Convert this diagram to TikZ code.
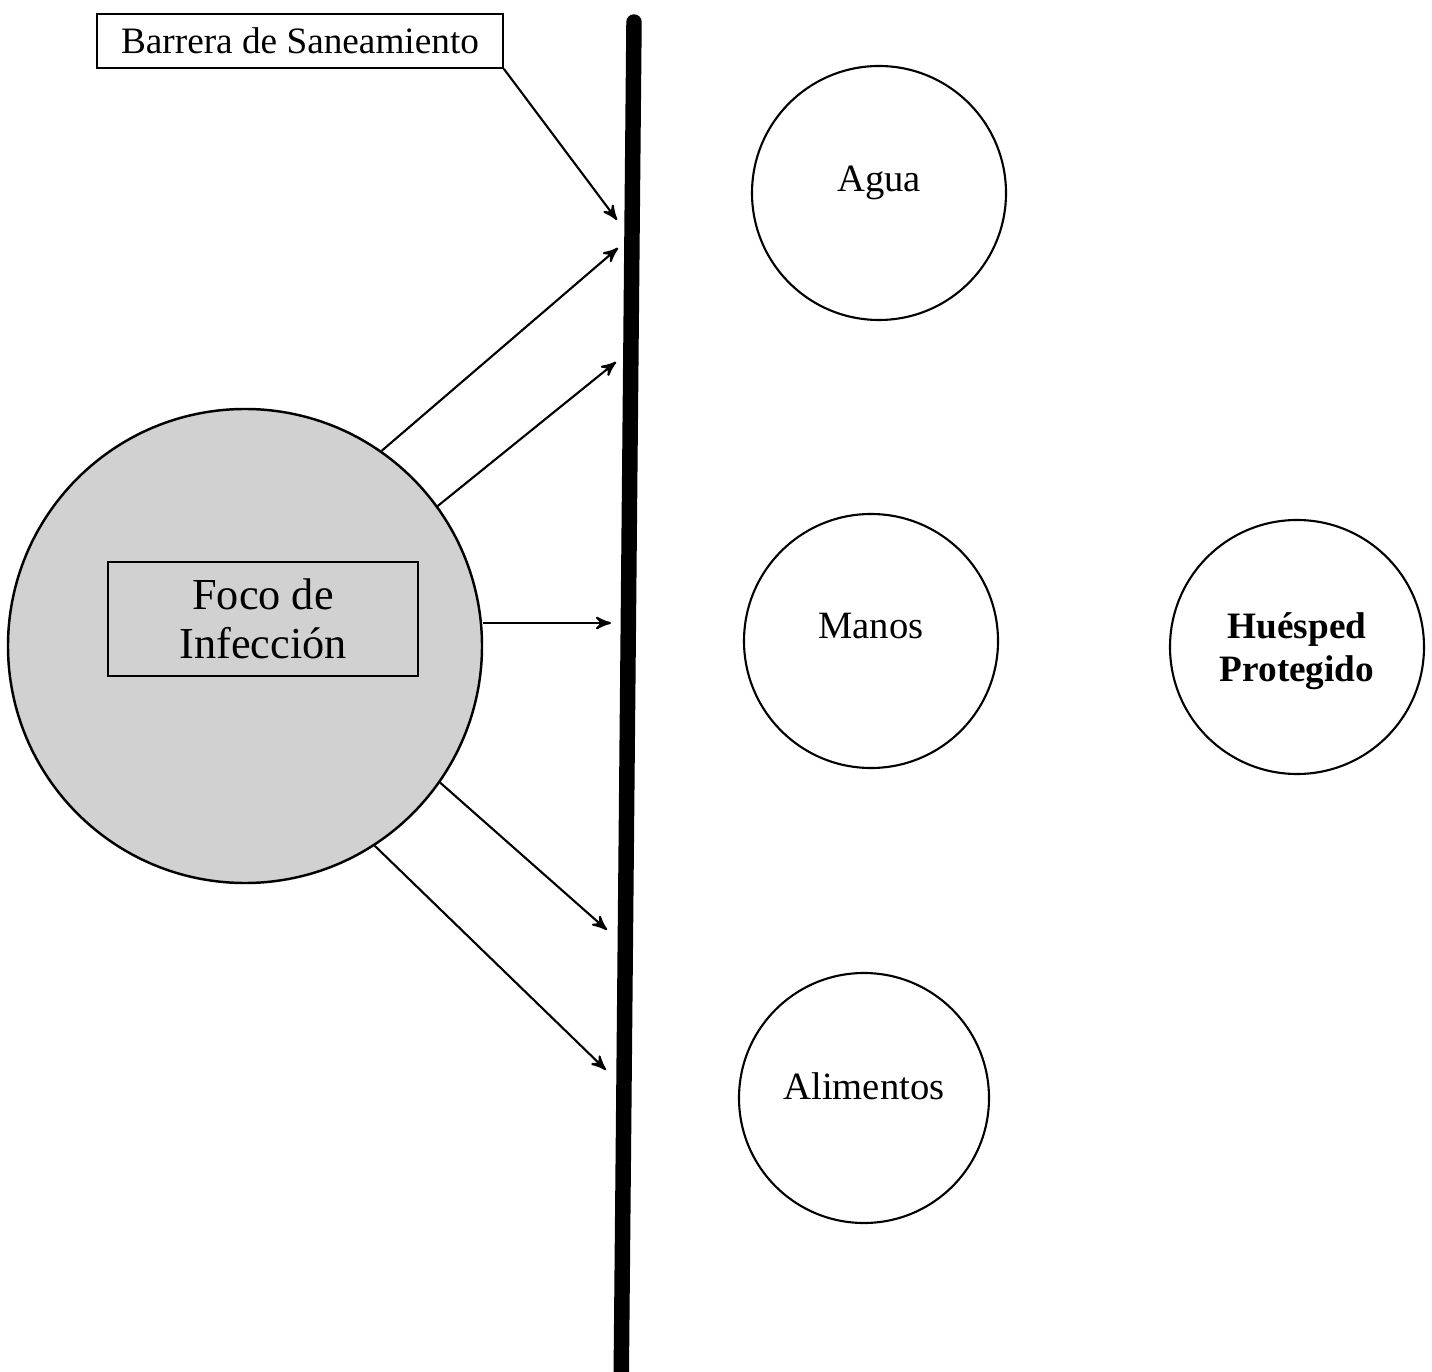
\documentclass[tikz,border=0pt]{standalone}
\usepackage{fontspec}
\setmainfont{Liberation Serif}
\usepackage{tikz}
\usetikzlibrary{arrows}

\tikzset{
  circ/.style={draw,circle,line width=0.6pt,minimum size=2.54cm,inner sep=0pt,font=\fontsize{11}{13}\selectfont},
  circtxt/.style={font=\fontsize{11}{13}\selectfont},
  lbox/.style={draw,rectangle,line width=0.5pt,inner sep=0pt},
  flecha/.style={->,>=stealth',line width=0.6pt,shorten >=0pt}
}

\begin{document}
\begin{tikzpicture}
  \useasboundingbox (0,0) rectangle (14.32,-13.72);

   \draw (3.00,-0.41) node[lbox,minimum width=4.06cm,minimum height=0.54cm,font=\fontsize{10.6}{13}\selectfont] (barrera) {Barrera de Saneamiento};

  % barrier
  \coordinate (btop) at (6.34,-0.22);
  \coordinate (bbot) at (6.21,-14.0);
  \draw[line width=4.4pt,line cap=round] (btop) -- (bbot);

  \draw (2.45,-6.46) node[circle,draw,line width=0.7pt,fill=black!18,minimum size=4.74cm] (foco) {};
  \draw (2.63,-6.19) node[lbox,line width=0.7pt,minimum width=3.1cm,minimum height=1.14cm,align=center,font=\fontsize{12.6}{14}\selectfont] (text) {Foco de\\Infección};

      \draw (8.79,-1.93) node[circ,label={[circtxt,yshift=1mm]center:Agua}] (agua) {};
      \draw (8.71,-6.41) node[circ,label={[circtxt,yshift=1.5mm]center:Manos}] (manos) {};
      \draw (8.64,-10.98) node[circ,minimum size=2.50cm,label={[circtxt,yshift=1.2mm]center:Alimentos}] (alimentos) {};
      \draw (12.97,-6.47) node[circ,align=center,font=\bfseries\fontsize{10.6}{12.2}\selectfont,text depth=-0.8mm] (huesped) {Huésped\\Protegido};

  \coordinate (e0) at (6.17,-2.20);
  \coordinate (e1) at (6.18,-2.48);
  \coordinate (e2) at (6.16,-3.62);
  \coordinate (e3) at (6.11,-6.23);
  \coordinate (e4) at (6.07,-9.30);
  \coordinate (e5) at (6.06,-10.70);

    \path[flecha] (barrera.south east) edge (e0);
    \path[flecha] (foco.55) edge (e1);
    \path[flecha] (foco.36) edge (e2);
    \path[flecha] (foco.east |- e3) edge (e3);
    \path[flecha] (foco.-35) edge (e4);
    \path[flecha] (foco.-57) edge (e5);

\end{tikzpicture}
\end{document}
